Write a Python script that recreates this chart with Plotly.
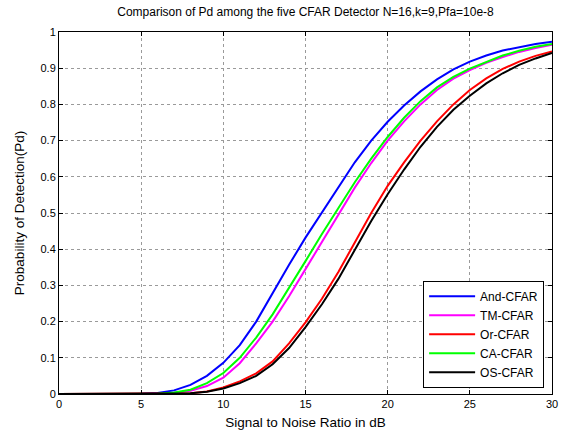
import plotly.graph_objects as go

snr_db = list(range(0, 31))

and_cfar = [0, 0, 0, 0, 0, 0.001, 0.003, 0.01, 0.025, 0.05, 0.086,
            0.135, 0.20, 0.28, 0.357, 0.432, 0.502, 0.572, 0.64, 0.70, 0.752,
            0.797, 0.836, 0.869, 0.897, 0.918, 0.935, 0.949, 0.959, 0.967, 0.973]
tm_cfar = [0, 0, 0, 0, 0, 0, 0, 0.003, 0.009, 0.022, 0.045,
           0.085, 0.14, 0.20, 0.27, 0.345, 0.42, 0.495, 0.57, 0.638, 0.70,
           0.753, 0.80, 0.84, 0.871, 0.895, 0.915, 0.931, 0.945, 0.956, 0.965]
or_cfar = [0, 0, 0, 0, 0, 0, 0, 0, 0.002, 0.007, 0.018,
           0.035, 0.057, 0.09, 0.14, 0.198, 0.263, 0.337, 0.42, 0.50, 0.575,
           0.64, 0.70, 0.753, 0.80, 0.84, 0.872, 0.898, 0.918, 0.934, 0.946]
ca_cfar = [0, 0, 0, 0, 0, 0, 0.001, 0.004, 0.012, 0.03, 0.058,
           0.10, 0.156, 0.22, 0.292, 0.367, 0.442, 0.515, 0.585, 0.65, 0.71,
           0.763, 0.809, 0.847, 0.876, 0.899, 0.918, 0.935, 0.948, 0.959, 0.967]
os_cfar = [0, 0, 0, 0, 0, 0, 0, 0, 0.002, 0.006, 0.015,
           0.03, 0.05, 0.082, 0.127, 0.185, 0.248, 0.318, 0.397, 0.478, 0.552,
           0.62, 0.683, 0.738, 0.785, 0.824, 0.858, 0.886, 0.909, 0.927, 0.942]

series = [
    ("And-CFAR", and_cfar, "#0000ff"),
    ("TM-CFAR", tm_cfar, "#ff00ff"),
    ("Or-CFAR", or_cfar, "#ff0000"),
    ("CA-CFAR", ca_cfar, "#00ff00"),
    ("OS-CFAR", os_cfar, "#000000"),
]

x_ticks = [0, 5, 10, 15, 20, 25, 30]
y_ticks = [0, 0.1, 0.2, 0.3, 0.4, 0.5, 0.6, 0.7, 0.8, 0.9, 1]
y_tick_text = ["0", "0.1", "0.2", "0.3", "0.4", "0.5", "0.6", "0.7", "0.8", "0.9", "1"]

fig = go.Figure()
for name, vals, color in series:
    fig.add_trace(go.Scatter(x=snr_db, y=vals, mode="lines", name=name,
                             line=dict(color=color, width=2)))

font_family = "Liberation Sans, Arial, sans-serif"
axis_common = dict(
    showline=True, linecolor="black", linewidth=1, mirror="ticks",
    ticks="inside", ticklen=4, tickcolor="black", automargin=False,
    showgrid=True, gridcolor="#9a9a9a", griddash="dot", gridwidth=1,
    zeroline=False, tickfont=dict(size=11, color="black", family=font_family),
)

fig.update_layout(
    width=561, height=434,
    margin=dict(l=59, r=9, t=32, b=40),
    paper_bgcolor="white", plot_bgcolor="white",
    font=dict(family=font_family, size=12, color="black"),
    title=dict(text="Comparison of Pd among the five CFAR Detector N=16,k=9,Pfa=10e-8",
               x=0.5, xref="paper", xanchor="center",
               y=1 - 12 / 434, yref="container", yanchor="middle",
               font=dict(size=12, color="black", family=font_family)),
    xaxis=dict(range=[0, 30], tickvals=x_ticks,
               title=dict(text="Signal to Noise Ratio in dB", standoff=8,
                          font=dict(size=13.5, color="black", family=font_family)),
               **axis_common),
    yaxis=dict(range=[0, 1], tickvals=y_ticks, ticktext=y_tick_text,
               title=dict(text="Probability of Detection(Pd)", standoff=12,
                          font=dict(size=13.5, color="black", family=font_family)),
               **axis_common),
    legend=dict(x=0.984, y=0.017, xanchor="right", yanchor="bottom",
                bgcolor="white", bordercolor="black", borderwidth=1,
                font=dict(size=12, color="black", family=font_family),
                tracegroupgap=0, itemwidth=46),
    showlegend=True,
)

fig.write_html("out.html",
               config={"displayModeBar": False},
               post_script="document.body.style.margin='0';document.body.style.padding='0';")
